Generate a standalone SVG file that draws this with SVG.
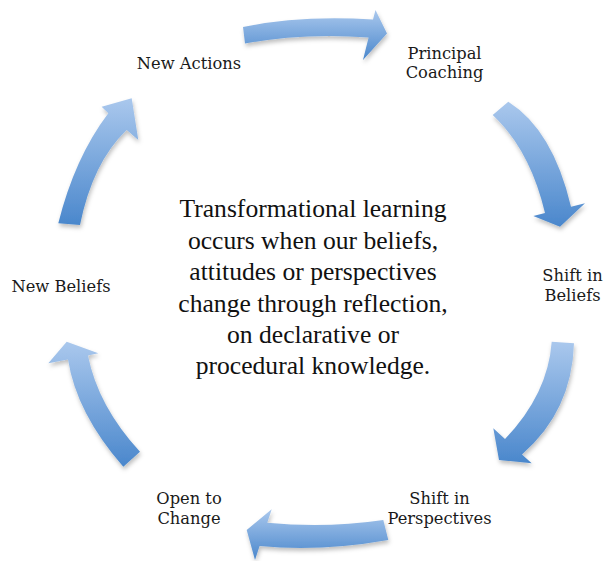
<svg xmlns="http://www.w3.org/2000/svg" width="603" height="561" viewBox="0 0 603 561">
<style>
.lbl{font-family:"DejaVu Serif","Liberation Serif",serif;font-size:16.3px;fill:#1a1a1a;text-anchor:middle}
.ctr{font-family:"Liberation Serif","Times New Roman",serif;font-size:25.6px;fill:#111;text-anchor:middle}
.arr{filter:url(#sh);fill:url(#gv)}
</style>
<defs>
<filter id="sh" x="-20%" y="-20%" width="140%" height="140%">
<feDropShadow dx="1" dy="3" stdDeviation="2" flood-color="#000" flood-opacity="0.25"/>
</filter>
<linearGradient id="gv" x1="0" y1="0" x2="0" y2="1"><stop offset="0" stop-color="#aac8ed"/><stop offset="1" stop-color="#4a87cc"/></linearGradient>
</defs>
<g id="connectors">
<path id="a1" class="arr" d="M243,27 Q300,15 373,19.5 L375.5,10 L387,33.5 L363,60 L368.6,37.5 Q305,32.5 245,43.5 Z"/>
<path id="a2" class="arr" d="M508.3,101.7 Q553,130 571,206.7 L585,203.3 L560,226.7 L533.3,216 L545,213.1 Q530,150 492.7,115 Z"/>
<path id="a3" class="arr" d="M574,343.3 Q572,411 522,454.5 L531.7,463.3 L499,460 L493.3,428.3 L505,439 Q548,394 551.7,341.7 Z"/>
<path id="a4" class="arr" d="M383.3,520 Q325,528.6 267.3,522.7 L271.7,509.3 L246.7,530 L255,560 L259.6,546 Q320,552 388.3,540 Z"/>
<path id="a5" class="arr" d="M123.3,466.7 Q76.4,413 68,359.4 L48.3,363.3 L66.7,341.7 L98.3,353.3 L88,355.4 Q98,406 140,451.7 Z"/>
<path id="a6" class="arr" d="M58.3,223.3 Q74.7,157.7 108.3,113.3 L101.7,106.7 L131.7,98.3 L138.3,140 L126.7,130 Q92.6,162.5 80,225 Z"/>
</g>
<g id="center">
<text class="ctr" x="313" y="217">Transformational learning</text>
<text class="ctr" x="313" y="248.5">occurs when our beliefs,</text>
<text class="ctr" x="313" y="280">attitudes or perspectives</text>
<text class="ctr" x="313" y="311.5">change through reflection,</text>
<text class="ctr" x="313" y="343">on declarative or</text>
<text class="ctr" x="313" y="374">procedural knowledge.</text>
</g>
<g id="n-principal"><text class="lbl" x="444.5" y="58.5">Principal</text><text class="lbl" x="444.5" y="78">Coaching</text></g>
<g id="n-beliefs-shift"><text class="lbl" x="572.5" y="281">Shift in</text><text class="lbl" x="572.5" y="301">Beliefs</text></g>
<g id="n-perspectives"><text class="lbl" x="439.5" y="504">Shift in</text><text class="lbl" x="439.5" y="523.5">Perspectives</text></g>
<g id="n-open"><text class="lbl" x="189" y="504">Open to</text><text class="lbl" x="189" y="523.5">Change</text></g>
<g id="n-newbeliefs"><text class="lbl" x="61" y="291.5">New Beliefs</text></g>
<g id="n-newactions"><text class="lbl" x="189" y="68.5">New Actions</text></g>
</svg>
